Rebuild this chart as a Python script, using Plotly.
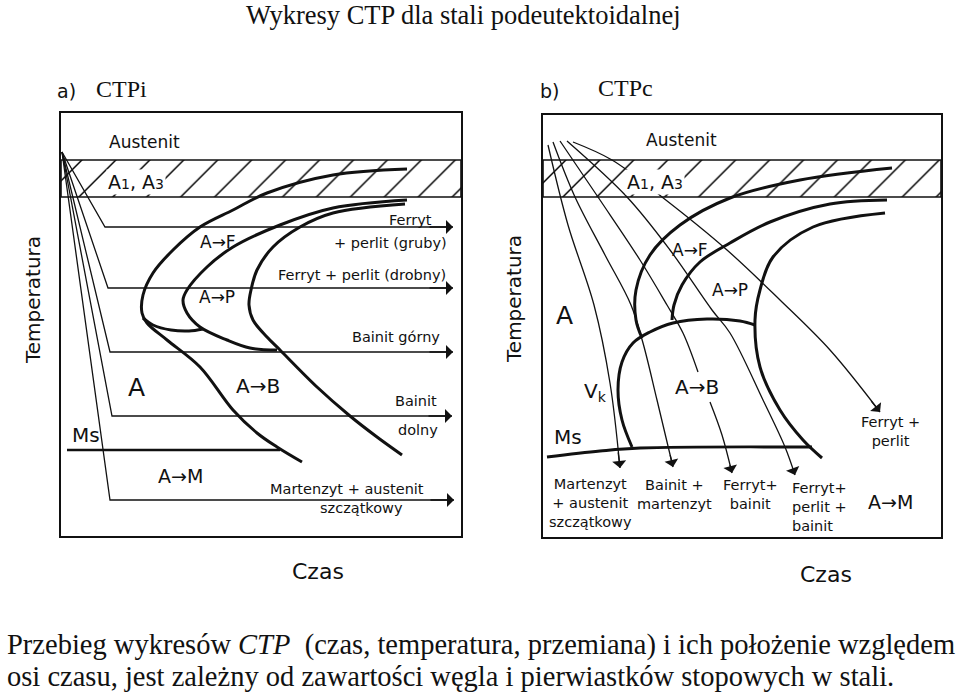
import plotly.graph_objects as go

# ================= DATA (schematic units: time 0-400, temperature 0-423) =================
# ---------- Panel a) CTPi ----------
a_band_temp = [339, 376]                      # A1/A3 hatched band
a_path_time = [[1, 44, 392], [1, 47, 392], [1, 49, 392], [1, 51, 391], [1, 49, 393]]
a_path_temp = [[384, 309, 309], [384, 248, 248], [384, 184, 184], [384, 120, 120], [384, 36, 36]]
a_ms_time = [6, 219]
a_ms_temp = [86, 86]
a_c1_time = [346, 272, 206, 172, 139, 112, 92, 82, 81, 86, 106, 139, 172, 196, 216, 241]
a_c1_temp = [367, 361, 343, 326, 309, 286, 263, 241, 223, 213, 196, 169, 126, 103, 89, 74]
a_bay_time = [82, 92, 110, 128, 142]
a_bay_temp = [218, 211, 206, 205, 207]
a_c2_time = [346, 272, 219, 172, 146, 126, 122, 126, 139, 166, 189, 216]
a_c2_temp = [336, 328, 311, 289, 269, 246, 236, 223, 209, 196, 188, 186]
a_c3_time = [344, 272, 239, 212, 196, 190, 188, 192, 206, 219, 256, 289, 316, 341]
a_c3_temp = [332, 323, 309, 289, 266, 246, 231, 216, 199, 186, 149, 120, 99, 81]

a_label_text = ["Austenit", "A<span style='font-size:14px'>1</span>, A<span style='font-size:14px'>3</span>",
                "Ferryt", "+ perlit (gruby)", "Ferryt + perlit (drobny)", "Bainit górny",
                "Bainit", "dolny", "Martenzyt + austenit", "szczątkowy"]
a_label_time = [83, 75, 349, 329, 301, 335, 355, 357, 286, 300]
a_label_temp = [394, 354, 316, 293, 261, 199, 135, 106, 47, 28]
a_zone_text = ["A→F", "A→P", "A", "A→B", "Ms", "A→M"]
a_zone_time = [157, 156, 75, 197, 25, 119]
a_zone_temp = [294, 239, 149, 150, 101, 60]

# ---------- Panel b) CTPc ----------
b_band_temp = [340, 377]
b_cool_time = [[5, 25, 51, 67, 77],
               [10, 32, 62, 88, 100, 114, 130],
               [17, 57, 97, 124, 140, 155],
               [24, 84, 127, 169, 187, 220, 242, 252],
               [30, 69, 119, 184, 237, 287, 337]]
b_cool_temp = [[392, 312, 232, 154, 69],
               [395, 340, 282, 232, 194, 137, 70],
               [396, 337, 277, 232, 204, 165],
               [396, 340, 287, 227, 204, 137, 90, 62],
               [395, 377, 340, 287, 237, 187, 125]]
b_cool3_tail_time = [167, 179, 189]           # curve 3 continues below the A→B label
b_cool3_tail_temp = [135, 102, 64]
b_fs_time = [349, 257, 187, 137, 107, 93, 93, 99]
b_fs_temp = [369, 357, 339, 312, 282, 247, 217, 199]
b_ps_time = [344, 287, 227, 187, 157, 139, 131, 129]
b_ps_temp = [337, 333, 315, 294, 275, 252, 232, 217]
b_pf_time = [342, 270, 230, 217, 212, 217, 237, 260, 279]
b_pf_temp = [324, 310, 280, 247, 217, 170, 127, 97, 79]
b_dome_time = [89, 79, 75, 79, 90, 107, 130, 164, 197, 212]
b_dome_temp = [90, 117, 147, 175, 194, 205, 214, 218, 216, 212]
b_ms_time = [4, 57, 97, 269]
b_ms_temp = [80, 86, 89, 90]

b_label_text = ["Austenit", "A<span style='font-size:14px'>1</span>, A<span style='font-size:14px'>3</span>",
                "Ferryt +<br>perlit", "Martenzyt<br>+ austenit<br>szczątkowy", "Bainit +<br>martenzyt",
                "Ferryt+<br>bainit"]
b_label_time = [138, 112, 347, 47, 131, 207]
b_label_temp = [397, 355, 106, 34, 43, 43]
b_zone_text = ["A→F", "A→P", "A", "V<sub>k</sub>", "A→B", "Ms", "A→M"]
b_zone_time = [147, 187, 21, 52, 154, 25, 347]
b_zone_temp = [287, 247, 222, 145, 150, 100, 35]

# ================= FIGURE =================
INK = "#111111"
SANS = "DejaVu Sans"
SERIF = "Liberation Serif"
fig = go.Figure()


def line(x, y, ax, width, spline=True):
    fig.add_trace(go.Scatter(x=x, y=y, mode="lines", xaxis=ax[0], yaxis=ax[1], hoverinfo="skip",
                             line=dict(color=INK, width=width, shape="spline" if spline else "linear",
                                       smoothing=1.0),
                             showlegend=False))


def band(temps, ax, xmax):
    lo, hi = temps
    fig.add_trace(go.Scatter(x=[0, xmax, xmax, 0, 0], y=[lo, lo, hi, hi, lo], mode="lines",
                             fill="toself", xaxis=ax[0], yaxis=ax[1], hoverinfo="skip",
                             fillcolor="white",
                             fillpattern=dict(shape="/", size=24, solidity=0.06, fgcolor="#000000",
                                              fgopacity=1, bgcolor="white"),
                             line=dict(color=INK, width=1.6), showlegend=False))


annotations = []


def arrow(xs, ys, xa, ya, frac=0.25):
    tx, ty = xs[-1], ys[-1]
    sx = tx + frac * (xs[-2] - tx)
    sy = ty + frac * (ys[-2] - ty)
    annotations.append(dict(x=tx, y=ty, ax=sx, ay=sy, xref=xa, yref=ya, axref=xa, ayref=ya,
                            text="", showarrow=True, arrowhead=1, arrowsize=1.8, arrowwidth=1.3,
                            arrowcolor=INK, standoff=0))


A = ("x", "y")
B = ("x2", "y2")

# Panel a
band(a_band_temp, A, 400)
for xs, ys in zip(a_path_time, a_path_temp):
    line(xs, ys, A, 1.3, spline=False)
    annotations.append(dict(x=xs[-1], y=ys[-1], ax=xs[-1] - 25, ay=ys[-1], xref="x", yref="y",
                            axref="x", ayref="y", text="", showarrow=True, arrowhead=1,
                            arrowsize=1.8, arrowwidth=1.3, arrowcolor=INK, standoff=0))
line(a_ms_time, a_ms_temp, A, 2.6, spline=False)
line(a_c1_time, a_c1_temp, A, 3.0)
line(a_bay_time, a_bay_temp, A, 3.0)
line(a_c2_time, a_c2_temp, A, 3.0)
line(a_c3_time, a_c3_temp, A, 3.0)

# Panel b
band(b_band_temp, B, 398)
for xs, ys in zip(b_cool_time, b_cool_temp):
    line(xs, ys, B, 1.3)
line(b_cool3_tail_time, b_cool3_tail_temp, B, 1.3)
for i, (xs, ys) in enumerate(zip(b_cool_time, b_cool_temp)):
    if i == 2:
        arrow(b_cool3_tail_time, b_cool3_tail_temp, "x2", "y2")
    else:
        arrow(xs, ys, "x2", "y2", frac=0.2)
line(b_fs_time, b_fs_temp, B, 3.0)
line(b_ps_time, b_ps_temp, B, 3.0)
line(b_pf_time, b_pf_temp, B, 3.0)
line(b_dome_time, b_dome_temp, B, 3.0)
line(b_ms_time, b_ms_temp, B, 3.0)


def label(text, x, y, xa, ya, size, **kw):
    d = dict(text=text, x=x, y=y, xref=xa, yref=ya, showarrow=False,
             xanchor="center", yanchor="middle",
             font=dict(family=kw.pop("family", SANS), size=size, color=INK))
    d.update(kw)
    annotations.append(d)


a_label_sizes = [17, 19, 14.5, 14.5, 14.5, 14.5, 14.5, 14.5, 14.5, 14.5]
for i, (t, x, y) in enumerate(zip(a_label_text, a_label_time, a_label_temp)):
    extra = dict(bgcolor="white", borderpad=1) if i == 1 else {}
    label(t, x, y, "x", "y", a_label_sizes[i], **extra)
a_zone_sizes = [17, 17, 25, 20, 20, 19]
for t, x, y, s in zip(a_zone_text, a_zone_time, a_zone_temp, a_zone_sizes):
    label(t, x, y, "x", "y", s)

b_label_sizes = [17, 19, 14.5, 14.5, 14.5, 14.5]
for i, (t, x, y) in enumerate(zip(b_label_text, b_label_time, b_label_temp)):
    extra = dict(bgcolor="white", borderpad=1) if i == 1 else {}
    label(t, x, y, "x2", "y2", b_label_sizes[i], **extra)
label("Ferryt+<br>perlit +<br>bainit", 247, 30, "x2", "y2", 14.5, xanchor="left", align="left")
b_zone_sizes = [17, 17, 25, 20, 20, 20, 19]
for t, x, y, s in zip(b_zone_text, b_zone_time, b_zone_temp, b_zone_sizes):
    label(t, x, y, "x2", "y2", s)

# Page-level texts
label("Wykresy CTP dla stali podeutektoidalnej", 0.4833, 1 - 15 / 694, "paper", "paper", 26.5, family=SERIF)
label("a)", 0.0688, 1 - 91 / 694, "paper", "paper", 19)
label("CTPi", 0.127, 1 - 89 / 694, "paper", "paper", 24, family=SERIF)
label("b)", 0.5729, 1 - 91 / 694, "paper", "paper", 19)
label("CTPc", 0.652, 1 - 88 / 694, "paper", "paper", 24, family=SERIF)
label("Czas", 0.3313, 1 - 571 / 694, "paper", "paper", 22)
label("Czas", 0.8604, 1 - 574 / 694, "paper", "paper", 22)
label("Temperatura", 0.0344, 1 - 300 / 694, "paper", "paper", 20, textangle=-90)
label("Temperatura", 0.5354, 1 - 299 / 694, "paper", "paper", 20, textangle=-90)
label("Przebieg wykresów <i>CTP</i>  (czas, temperatura, przemiana) i ich położenie względem",
      0.005, 1 - 645 / 694, "paper", "paper", 28.5, family=SERIF, xanchor="left")
label("osi czasu, jest zależny od zawartości węgla i pierwiastków stopowych w stali.",
      0.005, 1 - 676 / 694, "paper", "paper", 28.5, family=SERIF, xanchor="left")

axis_style = dict(showticklabels=False, ticks="", showgrid=False, zeroline=False, showline=True,
                  mirror=True, linecolor=INK, linewidth=1.6, fixedrange=True)
fig.update_layout(
    width=960, height=694, margin=dict(l=0, r=0, t=0, b=0),
    paper_bgcolor="white", plot_bgcolor="white", showlegend=False,
    xaxis=dict(domain=[61 / 960, 461 / 960], range=[0, 400], **axis_style),
    yaxis=dict(domain=[(694 - 536) / 694, (694 - 113) / 694], range=[0, 423], **axis_style),
    xaxis2=dict(domain=[543 / 960, 941 / 960], range=[0, 398], anchor="y2", **axis_style),
    yaxis2=dict(domain=[(694 - 537) / 694, (694 - 115) / 694], range=[0, 422], anchor="x2", **axis_style),
    annotations=annotations,
)
fig.write_html("out.html")
